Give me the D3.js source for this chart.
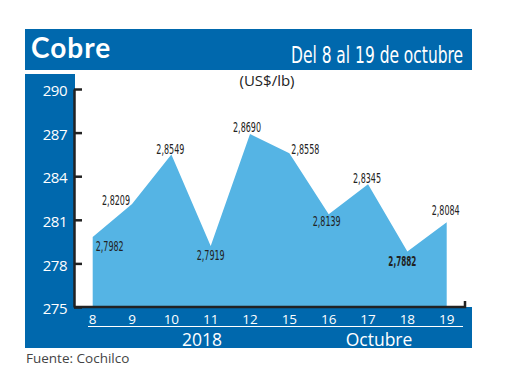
<!DOCTYPE html>
<html>
<head>
<meta charset="utf-8">
<script src="https://cdn.jsdelivr.net/npm/d3@7"></script>
<style>
  body { margin: 0; background: #fff; }
</style>
</head>
<body>
<div class="chart"></div>
<script>
var width = 520, height = 390;

// data
var days = ["8", "9", "10", "11", "12", "15", "16", "17", "18", "19"];
var prices = [279.82, 282.09, 285.49, 279.19, 286.90, 285.58, 281.39, 283.45, 278.82, 280.84];
var priceLabels = ["2,7982", "2,8209", "2,8549", "2,7919", "2,8690", "2,8558", "2,8139", "2,8345", "2,7882", "2,8084"];
var yTicks = [275, 278, 281, 284, 287, 290];

// where each value label sits around its point (dx, dy, anchor)
var labelPos = [
  [3, 9, "start"], [-2, -4, "end"], [-1, -6, "middle"], [0, 9, "middle"], [-3, -7, "middle"],
  [2, -4, "start"], [-2, 7, "middle"], [-1, -6, "middle"], [-5, 9, "middle"], [-1, -12, "middle"]
];

var blue = "#0068ad";
var fill = "#55b4e4";

var svg = d3.select(".chart").append("svg")
    .attr("width", width)
    .attr("height", height);

var x = d3.scalePoint().domain(days).range([92.7, 446.7]);
var y = d3.scaleLinear().domain([275, 290]).range([307, 89]);

// header
svg.append("rect").attr("x", 25).attr("y", 29).attr("width", 447).attr("height", 41).attr("fill", blue);
svg.append("text")
  .attr("x", 31).attr("y", 58)
  .attr("fill", "#fff")
  .style("font-family", "Lato, 'Open Sans', sans-serif")
  .style("font-weight", 700)
  .style("font-size", "28px")
  .style("letter-spacing", "1px")
  .text("Cobre");
svg.append("text")
  .attr("x", 463).attr("y", 63)
  .attr("text-anchor", "end")
  .attr("fill", "#fff")
  .attr("textLength", 172)
  .attr("lengthAdjust", "spacingAndGlyphs")
  .style("font-family", "'Liberation Sans Narrow', 'DejaVu Sans Condensed', sans-serif")
  .style("font-size", "23px")
  .text("Del 8 al 19 de octubre");

// side and bottom panels
svg.append("rect").attr("x", 25).attr("y", 74).attr("width", 50).attr("height", 274).attr("fill", blue);
svg.append("rect").attr("x", 25).attr("y", 307).attr("width", 447).attr("height", 41).attr("fill", blue);

svg.append("text")
  .attr("x", 267).attr("y", 86)
  .attr("text-anchor", "middle")
  .attr("fill", "#222")
  .style("font-family", "'Open Sans', sans-serif")
  .style("font-size", "15px")
  .text("(US$/lb)");

// area
var area = d3.area()
  .x(function(d, i) { return x(days[i]); })
  .y0(y(275))
  .y1(function(d) { return y(d); });

svg.append("path")
  .datum(prices)
  .attr("d", area)
  .attr("fill", fill);

// value labels
svg.selectAll(".vlab")
  .data(prices)
  .enter()
  .append("text")
  .attr("class", "vlab")
  .attr("x", function(d, i) { return x(days[i]) + labelPos[i][0]; })
  .attr("y", function(d, i) { return y(d) + labelPos[i][1]; })
  .attr("dy", "0.35em")
  .attr("text-anchor", function(d, i) { return labelPos[i][2]; })
  .attr("textLength", 28)
  .attr("lengthAdjust", "spacingAndGlyphs")
  .attr("fill", "#222")
  .style("font-family", "'Liberation Sans Narrow', 'DejaVu Sans Condensed', sans-serif")
  .style("font-size", "14.5px")
  .style("font-weight", function(d, i) { return i == 8 ? 700 : 400; })
  .text(function(d, i) { return priceLabels[i]; });

// y axis
var yAxis = svg.append("g")
  .attr("transform", "translate(74,0)")
  .call(d3.axisLeft(y).tickValues(yTicks).tickSizeInner(-8).tickSizeOuter(0).tickPadding(7));
yAxis.select(".domain").attr("stroke", "#222").attr("stroke-width", 2.5);
yAxis.selectAll(".tick line").attr("stroke", "#222").attr("stroke-width", 2.5);
yAxis.selectAll(".tick text")
  .attr("fill", "#fff")
  .attr("dy", "0.45em")
  .style("font-family", "'Open Sans', sans-serif")
  .style("font-size", "15px")
  .style("letter-spacing", "-0.5px");

// bottom axis line with small end tick
svg.append("path")
  .attr("d", "M74," + y(275) + "H465V301")
  .attr("fill", "none")
  .attr("stroke", "#222")
  .attr("stroke-width", 2.5);

// x labels
svg.selectAll(".xlab")
  .data(days)
  .enter()
  .append("text")
  .attr("class", "xlab")
  .attr("x", function(d) { return x(d); })
  .attr("y", 323.5)
  .attr("text-anchor", "middle")
  .attr("fill", "#fff")
  .style("font-family", "'Open Sans', sans-serif")
  .style("font-size", "13.5px")
  .text(function(d) { return d; });

svg.append("line")
  .attr("x1", 88).attr("x2", 463)
  .attr("y1", 326.5).attr("y2", 326.5)
  .attr("stroke", "#fff")
  .attr("stroke-width", 1.2);

svg.append("text")
  .attr("x", 202).attr("y", 345.5)
  .attr("text-anchor", "middle")
  .attr("fill", "#fff")
  .style("font-family", "'Open Sans', sans-serif")
  .style("font-size", "17.5px")
  .text("2018");
svg.append("text")
  .attr("x", 379).attr("y", 345.5)
  .attr("text-anchor", "middle")
  .attr("fill", "#fff")
  .style("font-family", "'Open Sans', sans-serif")
  .style("font-size", "17.5px")
  .text("Octubre");

svg.append("text")
  .attr("x", 26).attr("y", 363)
  .attr("fill", "#444")
  .style("font-family", "'Open Sans', sans-serif")
  .style("font-size", "13.5px")
  .text("Fuente: Cochilco");
</script>
</body>
</html>
